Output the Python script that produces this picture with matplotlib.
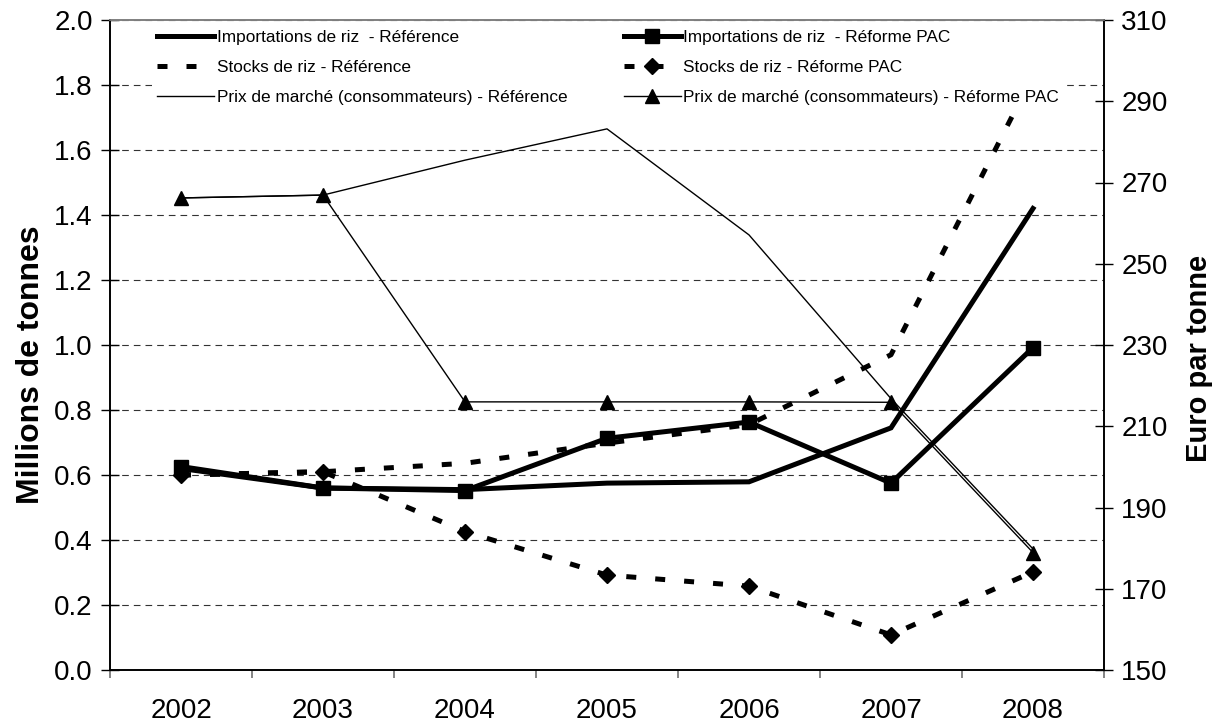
import numpy as np
import matplotlib
matplotlib.use("Agg")
import matplotlib.pyplot as plt
from matplotlib.ticker import FixedLocator, FormatStrFormatter

plt.rcParams['font.family'] = ['Liberation Sans', 'DejaVu Sans']

years = ["2002", "2003", "2004", "2005", "2006", "2007", "2008"]

# millions de tonnes
imports_ref = [0.62, 0.56, 0.555, 0.575, 0.579, 0.745, 1.42]
imports_pac = [0.626, 0.56, 0.552, 0.713, 0.763, 0.575, 0.992]
stocks_ref = [0.60, 0.61, 0.636, 0.698, 0.755, 0.97, 1.83]
stocks_pac = [0.60, 0.61, 0.426, 0.292, 0.258, 0.108, 0.302]

# euro par tonne
price_ref = [266.2, 266.9, 275.5, 283.2, 257.1, 216.8, 179.8]
price_pac = [266.2, 266.9, 216.0, 216.0, 216.0, 215.9, 178.9]

x = np.arange(len(years))

fig = plt.figure(figsize=(12.13, 7.24), dpi=100)
ax = fig.add_axes([110 / 1213, 1 - 670 / 724, (1104 - 110) / 1213, 650 / 724])
ax2 = ax.twinx()

thick = 3.6
thin = 1.0
dash = (2.0, 3.8)

l1, = ax.plot(x, imports_ref, color='black', lw=thick, solid_joinstyle='miter',
              label="Importations de riz  - Référence")
l2, = ax.plot(x, imports_pac, color='black', lw=thick, marker='s', ms=10,
              label="Importations de riz  - Réforme PAC")
l3, = ax.plot(x, stocks_ref, color='black', lw=thick, dashes=dash, dash_capstyle='butt',
              label="Stocks de riz - Référence")
l4, = ax.plot(x, stocks_pac, color='black', lw=thick, dashes=dash, dash_capstyle='butt',
              marker='D', ms=8, label="Stocks de riz - Réforme PAC")
l5, = ax2.plot(x, price_ref, color='black', lw=thin,
               label="Prix de marché (consommateurs) - Référence")
l6, = ax2.plot(x, price_pac, color='black', lw=thin, marker='^', ms=10,
               label="Prix de marché (consommateurs) - Réforme PAC")

# left axis
ax.set_xlim(-0.5, len(years) - 0.5)
ax.set_ylim(0, 2.0)
ax.set_yticks(np.arange(0, 2.01, 0.2))
ax.yaxis.set_major_formatter(FormatStrFormatter('%.1f'))
ax.set_xticks(x)
ax.set_xticklabels(years)
ax.xaxis.set_minor_locator(FixedLocator(np.arange(-0.5, len(years), 1.0)))
ax.tick_params(axis='x', which='major', length=0, labelsize=20, pad=20)
ax.tick_params(axis='x', which='minor', length=6, width=1.2, color='#707070', direction='out')
ax.tick_params(axis='y', labelsize=20, direction='inout', length=13, width=1.0, pad=6)
ax.set_ylabel("Millions de tonnes", fontsize=23, fontweight='bold', labelpad=6)
ax.yaxis.label.set_y(0.47)

ax.yaxis.grid(True, color='#333333', lw=0.8, linestyle=(0, (6, 4.5)))
ax.set_axisbelow(True)

# right axis
ax2.set_ylim(150, 310)
ax2.set_yticks(np.arange(150, 311, 20))
ax2.tick_params(axis='y', labelsize=20, direction='inout', length=13, width=1.0, pad=6)
ax2.set_ylabel("Euro par tonne", fontsize=21, fontweight='bold', labelpad=12)
ax2.yaxis.label.set_y(0.48)

for a in (ax, ax2):
    for side in ('left', 'right', 'bottom'):
        a.spines[side].set_color('black')
        a.spines[side].set_linewidth(1.2)
    a.spines['top'].set_color('#808080')
    a.spines['top'].set_linewidth(1.2)

handles = [l1, l3, l5, l2, l4, l6]
leg = ax2.legend(handles=handles, ncol=2, loc='upper left',
                 bbox_to_anchor=(152 / 1213, 1 - 25 / 724), bbox_transform=fig.transFigure,
                 fontsize=12.4, frameon=True, fancybox=False, edgecolor='none',
                 facecolor='white', framealpha=1, numpoints=1,
                 handlelength=3.3, handletextpad=0.15, columnspacing=3.3,
                 labelspacing=0.85, borderpad=0.3, borderaxespad=0)

fig.savefig("out.png", dpi=100)
